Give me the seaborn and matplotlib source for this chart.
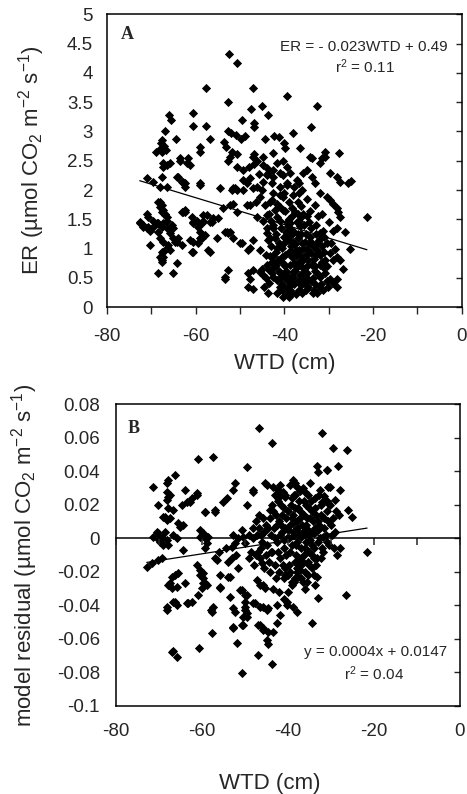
import numpy as np
import pandas as pd
import matplotlib
matplotlib.use('Agg')
import matplotlib.pyplot as plt
import seaborn as sns
from matplotlib.ticker import MultipleLocator, FuncFormatter

# ---- Panel A: ER vs WTD, [WTD (cm), ER] pairs ----
er_sparse = [
    [-52.5, 4.33], [-50.7, 4.17], [-57.7, 3.75], [-47.1, 3.75], [-39.5, 3.60], [-52.7, 3.50],
    [-32.7, 3.43], [-45.1, 3.43], [-47.6, 3.38], [-60.7, 3.31], [-66.0, 3.28], [-65.6, 3.19],
    [-43.7, 3.28], [-49.6, 3.19], [-46.9, 3.14], [-46.9, 3.08], [-60.7, 3.09], [-57.7, 3.10],
    [-34.1, 3.07], [-67.0, 3.00], [-52.7, 3.01], [-52.0, 2.98], [-51.0, 2.94], [-38.1, 2.97],
    [-48.9, 2.93], [-42.4, 2.93], [-41.3, 2.90], [-44.4, 2.88], [-64.5, 2.88], [-56.8, 2.88],
    [-49.8, 2.88], [-67.5, 2.85], [-67.8, 2.80], [-67.2, 2.75], [-68.0, 2.70], [-66.8, 2.68],
    [-67.5, 2.65], [-40.1, 2.80], [-39.9, 2.71], [-59.0, 2.73], [-59.0, 2.65], [-53.6, 2.82],
    [-53.2, 2.73], [-36.5, 2.71], [-30.9, 2.65], [-27.7, 2.63], [-51.8, 2.65], [-50.7, 2.61],
    [-46.9, 2.61], [-44.9, 2.56], [-42.6, 2.63], [-34.3, 2.56], [-31.6, 2.54], [-63.6, 2.54],
    [-61.8, 2.54], [-69.0, 2.65], [-67.4, 2.46], [-66.5, 2.42], [-63.6, 2.50], [-62.0, 2.46],
    [-61.3, 2.42], [-52.3, 2.56], [-52.7, 2.50], [-50.7, 2.39], [-49.4, 2.34], [-47.1, 2.56],
    [-46.2, 2.50], [-44.9, 2.42], [-44.0, 2.37], [-41.7, 2.46], [-40.4, 2.50], [-39.5, 2.39],
    [-38.8, 2.29], [-42.6, 2.34], [-40.9, 2.29], [-65.8, 2.46], [-71.0, 2.20], [-69.6, 2.13],
    [-68.1, 2.05], [-66.5, 2.05], [-64.2, 2.22], [-63.1, 2.13], [-62.4, 2.12], [-59.0, 2.12],
    [-54.5, 2.03], [-51.6, 2.03], [-50.7, 2.00], [-48.5, 2.12], [-47.8, 2.20], [-47.1, 2.03],
    [-46.2, 2.05], [-44.9, 2.13], [-44.0, 2.25], [-42.8, 2.12], [-42.6, 2.22], [-40.4, 2.25],
    [-39.5, 2.12], [-37.2, 2.17], [-35.9, 2.29], [-35.0, 2.34], [-33.8, 2.22], [-33.2, 2.12],
    [-33.8, 2.54], [-32.0, 2.46], [-30.9, 2.56], [-29.8, 2.30], [-28.2, 2.22], [-27.5, 2.13],
    [-25.7, 2.12], [-25.0, 2.16], [-36.1, 2.00], [-32.0, 1.95], [-30.5, 1.88], [-29.8, 1.83],
    [-29.1, 1.77], [-28.2, 1.69], [-28.0, 1.62], [-27.5, 1.54], [-21.4, 1.54], [-68.1, 1.79],
    [-67.6, 1.74], [-67.4, 1.66], [-66.9, 1.60], [-66.5, 1.54], [-71.0, 1.60], [-70.8, 1.54],
    [-72.6, 1.45], [-71.9, 1.40], [-71.0, 1.35], [-70.3, 1.31], [-69.6, 1.48], [-68.7, 1.43],
    [-69.6, 1.37], [-67.4, 1.43], [-66.5, 1.35], [-65.8, 1.26], [-68.1, 1.19], [-67.4, 1.11],
    [-66.5, 1.02], [-67.4, 0.94], [-68.1, 0.85], [-67.6, 0.80], [-70.3, 1.06], [-68.5, 0.58],
    [-65.1, 0.58], [-64.2, 0.75], [-65.8, 0.97], [-65.1, 1.18], [-64.2, 1.11], [-63.1, 1.06],
    [-63.1, 1.62], [-62.4, 1.62], [-60.9, 1.54], [-60.6, 1.45], [-61.3, 1.14], [-60.6, 1.11],
    [-60.9, 0.94], [-59.5, 1.37], [-59.0, 1.28], [-58.4, 1.23], [-59.0, 1.18], [-58.6, 1.43],
    [-58.4, 1.48], [-57.5, 1.57], [-56.8, 1.45], [-56.1, 1.52], [-55.0, 1.52], [-57.3, 0.97],
    [-55.2, 1.18], [-53.0, 1.28], [-52.3, 1.28], [-53.9, 1.69], [-52.3, 1.74], [-51.6, 1.77],
    [-53.4, 0.51], [-52.7, 0.63], [-50.0, 1.09], [-50.7, 1.62], [-48.5, 1.74], [-47.8, 1.74],
    [-48.2, 0.97], [-47.8, 1.02], [-47.1, 1.14], [-48.2, 0.58], [-47.8, 0.49], [-47.1, 0.63],
    [-48.2, 0.34], [-47.1, 0.32], [-45.5, 0.60], [-44.9, 0.55], [-45.5, 0.97], [-46.2, 1.54],
    [-44.9, 1.48], [-44.0, 1.57], [-44.0, 1.26], [-43.3, 1.19], [-42.6, 1.35], [-44.0, 0.72],
    [-43.7, 0.66], [-42.6, 0.51], [-41.7, 0.46], [-42.8, 1.83], [-41.7, 1.77], [-41.0, 1.71],
    [-40.4, 1.66], [-42.6, 1.95], [-41.0, 1.91], [-40.4, 1.88], [-42.2, 1.66], [-41.7, 1.54],
    [-41.0, 1.48], [-39.5, 1.45], [-38.8, 1.43], [-67.6, 2.22], [-67.4, 2.39], [-64.0, 2.22],
    [-62.9, 2.13], [-62.4, 2.05], [-59.0, 2.08], [-51.8, 2.00], [-51.2, 2.03], [-49.4, 2.00],
    [-49.4, 2.17], [-62.9, 1.62], [-62.4, 1.66], [-59.7, 1.48], [-60.6, 1.43], [-58.4, 1.57],
    [-56.4, 1.45], [-53.4, 1.28], [-52.7, 1.26], [-51.6, 1.19], [-49.6, 1.09], [-56.8, 0.94],
    [-60.6, 0.94], [-59.5, 1.09], [-58.6, 1.18], [-57.9, 1.23], [-66.3, 1.06], [-64.7, 1.11],
    [-64.0, 1.19], [-67.6, 0.94], [-67.4, 0.85], [-67.6, 0.77], [-72.6, 1.43], [-71.9, 1.37],
    [-70.8, 1.37], [-68.5, 1.79], [-68.1, 1.71], [-67.6, 1.62], [-66.9, 1.57], [-66.5, 1.48],
    [-68.5, 1.43], [-67.6, 1.37], [-68.5, 1.28], [-65.4, 1.40], [-65.1, 1.35], [-53.4, 0.49],
]
er_core = [
    [-40.4, 0.17], [-41.7, 0.24], [-40.6, 0.29], [-31.4, 0.29], [-30.2, 0.34], [-29.1, 0.41],
    [-28.2, 0.34], [-32.0, 0.51], [-30.9, 0.58], [-29.8, 0.49], [-28.2, 0.49], [-26.8, 0.66],
    [-29.1, 0.80], [-28.2, 0.85], [-29.8, 0.92], [-25.3, 1.00], [-26.4, 1.28], [-28.2, 1.35],
    [-31.4, 1.31], [-32.0, 1.26], [-33.8, 1.09], [-32.7, 0.97], [-30.5, 1.09],
    [-42.5, 1.40], [-41.8, 1.25], [-41.2, 1.10], [-42.0, 0.95], [-41.5, 0.80], [-42.3, 0.68],
    [-41.0, 0.58], [-40.5, 0.40], [-40.0, 0.33], [-39.5, 0.22], [-40.8, 1.35], [-40.2, 1.20],
    [-40.5, 1.02], [-39.8, 0.90], [-40.3, 0.75], [-39.6, 0.62], [-40.0, 0.52], [-39.2, 0.45],
    [-38.8, 0.30], [-38.3, 0.25], [-39.0, 1.50], [-38.6, 1.32], [-39.2, 1.15], [-38.5, 1.05],
    [-38.9, 0.95], [-38.2, 0.85], [-38.7, 0.72], [-38.0, 0.60], [-38.4, 0.50], [-37.8, 0.40],
    [-37.6, 1.62], [-37.2, 1.45], [-37.8, 1.28], [-37.0, 1.18], [-37.5, 1.08], [-36.8, 0.98],
    [-37.3, 0.88], [-36.6, 0.78], [-37.1, 0.68], [-36.5, 0.55], [-37.0, 0.45], [-36.3, 0.38],
    [-36.8, 0.30], [-36.0, 1.55], [-35.6, 1.40], [-36.2, 1.25], [-35.4, 1.12], [-35.9, 1.00],
    [-35.2, 0.90], [-35.8, 0.80], [-35.0, 0.70], [-35.5, 0.60], [-34.8, 0.50], [-35.3, 0.42],
    [-34.6, 0.35], [-34.5, 1.45], [-34.0, 1.35], [-34.3, 1.20], [-33.6, 1.05], [-34.0, 0.92],
    [-33.4, 0.82], [-33.8, 0.72], [-33.2, 0.62], [-33.6, 0.50], [-33.0, 0.40], [-33.3, 0.30],
    [-32.6, 0.25], [-32.8, 1.40], [-32.3, 1.15], [-32.0, 0.90], [-31.6, 0.78], [-31.2, 0.68],
    [-30.8, 0.80], [-30.4, 0.70], [-43.5, 1.60], [-43.0, 1.48], [-43.8, 1.15], [-43.2, 0.88],
    [-42.8, 0.78], [-43.5, 0.42], [-44.5, 0.35], [-45.0, 0.65], [-44.2, 0.90], [-39.8, 1.65],
    [-38.3, 1.70], [-37.0, 1.80], [-36.2, 1.72], [-35.0, 1.85], [-34.2, 1.65], [-36.8, 1.95],
    [-38.0, 1.92], [-39.0, 1.80], [-40.2, 1.95], [-41.0, 2.05], [-39.5, 2.08], [-37.8, 2.05],
    [-36.6, 2.12], [-43.3, 1.80], [-44.3, 1.75], [-45.5, 1.88], [-46.5, 1.80], [-45.0, 2.00],
    [-43.8, 2.30], [-45.8, 2.28], [-48.0, 2.40], [-46.8, 2.45], [-33.0, 1.75], [-31.5, 1.60],
    [-32.5, 1.55], [-30.0, 1.45], [-29.0, 1.30], [-31.0, 1.20], [-29.5, 1.10], [-28.5, 1.00],
    [-27.5, 0.80], [-30.5, 0.45], [-32.0, 0.35],
    [-42.2, 1.18], [-41.6, 1.02], [-42.6, 0.88], [-41.9, 0.72], [-41.3, 0.62], [-40.9, 0.50],
    [-40.6, 0.85], [-40.1, 1.10], [-39.7, 1.28], [-39.3, 1.38], [-39.9, 0.70], [-39.4, 0.55],
    [-39.1, 0.35], [-38.6, 0.40], [-38.1, 0.52], [-37.6, 0.62], [-37.9, 0.75], [-38.4, 0.92],
    [-37.4, 0.98], [-38.0, 1.12], [-38.8, 1.22], [-36.9, 1.25], [-36.4, 1.38], [-36.0, 1.10],
    [-36.4, 0.90], [-36.0, 0.68], [-35.7, 0.48], [-36.1, 0.25], [-35.2, 0.30], [-34.9, 0.58],
    [-34.7, 0.80], [-34.8, 1.00], [-35.1, 1.25], [-34.4, 1.10], [-33.9, 0.45], [-33.5, 0.25],
    [-33.1, 0.70], [-32.9, 0.90], [-32.6, 1.10], [-32.8, 1.25], [-32.3, 0.55], [-32.0, 0.72],
    [-31.8, 0.40], [-31.0, 0.95], [-31.5, 1.05], [-37.3, 0.22], [-38.9, 0.18], [-37.0, 1.60],
    [-35.7, 1.60], [-34.8, 1.55], [-43.9, 1.35], [-43.0, 1.05], [-42.7, 0.58], [-44.1, 0.50],
    [-43.6, 0.25], [-41.1, 0.35], [-36.6, 1.48], [-38.2, 1.55],
]
slope_a, icpt_a = -0.023, 0.49

# ---- Panel B: model residual vs WTD ----
res_sparse = [
    [-46.7, 0.0657], [-43.7, 0.0568], [-32.1, 0.0627], [-29.5, 0.0538], [-26.3, 0.0526],
    [-60.9, 0.0472], [-57.4, 0.0484], [-49.5, 0.0425], [-33.3, 0.0431], [-30.9, 0.0407],
    [-28.4, 0.0431], [-71.4, 0.0305], [-67.9, 0.0347], [-66.3, 0.0377], [-68.1, 0.0330],
    [-52.3, 0.0330], [-52.8, 0.0288], [-48.1, 0.0288], [-44.9, 0.0317], [-43.5, 0.0305],
    [-42.3, 0.0288], [-41.2, 0.0276], [-38.8, 0.0347], [-37.9, 0.0305], [-34.9, 0.0330],
    [-32.6, 0.0288], [-30.2, 0.0305], [-27.9, 0.0288], [-70.2, 0.0198], [-68.1, 0.0228],
    [-67.4, 0.0258], [-64.7, 0.0198], [-63.5, 0.0216], [-62.3, 0.0240], [-61.2, 0.0258],
    [-59.3, 0.0156], [-57.0, 0.0156], [-55.1, 0.0216], [-54.2, 0.0240], [-49.5, 0.0198],
    [-44.2, 0.0168], [-69.1, 0.0127], [-68.1, 0.0109], [-67.4, 0.0120], [-65.1, 0.0067],
    [-64.4, 0.0079], [-70.5, 0.0037], [-71.4, 0.0007], [-69.8, 0.0007], [-60.5, 0.0049],
    [-59.8, 0.0031], [-58.8, 0.0007], [-58.8, -0.0028], [-60.5, 0.0007],
    [-50.7, -0.0803], [-43.7, -0.0750], [-47.0, -0.0696], [-66.7, -0.0672], [-65.8, -0.0708],
    [-60.7, -0.0654], [-51.9, -0.0624], [-44.9, -0.0606], [-44.7, -0.0630], [-57.7, -0.0565],
    [-52.8, -0.0535], [-50.5, -0.0517], [-46.5, -0.0517], [-45.8, -0.0547], [-42.6, -0.0505],
    [-43.5, -0.0559], [-34.4, -0.0505], [-68.1, -0.0410], [-66.7, -0.0380], [-63.5, -0.0386],
    [-62.3, -0.0380], [-57.9, -0.0428], [-57.4, -0.0410], [-52.8, -0.0416], [-52.3, -0.0440],
    [-50.0, -0.0410], [-49.5, -0.0446], [-49.5, -0.0470], [-48.1, -0.0386], [-46.5, -0.0410],
    [-44.9, -0.0428], [-42.6, -0.0398], [-40.2, -0.0380], [-38.8, -0.0410], [-37.9, -0.0440],
    [-33.0, -0.0356], [-26.5, -0.0338], [-33.7, -0.0279], [-55.8, -0.0219], [-53.5, -0.0231],
    [-55.8, -0.0291], [-53.5, -0.0350], [-60.5, -0.0219], [-59.8, -0.0267], [-58.8, -0.0279],
    [-67.4, -0.0267], [-65.8, -0.0291], [-64.0, -0.0267], [-51.2, -0.0308], [-49.5, -0.0338],
    [-47.2, -0.0249], [-45.8, -0.0279], [-72.8, -0.0171], [-71.6, -0.0148], [-70.2, -0.0130],
    [-69.3, -0.0118], [-67.0, -0.0231], [-66.3, -0.0219], [-65.6, -0.0207], [-67.9, -0.0279],
    [-67.0, -0.0297], [-66.3, -0.0380], [-65.8, -0.0398], [-68.1, -0.0428], [-63.3, -0.0386],
    [-61.2, -0.0160], [-60.5, -0.0189], [-59.8, -0.0207], [-59.8, -0.0237], [-59.3, -0.0267],
    [-60.0, -0.0297], [-60.9, -0.0338], [-57.7, -0.0440], [-67.0, -0.0678], [-53.9, -0.0231],
    [-55.8, -0.0297], [-57.0, -0.0118], [-53.0, -0.0118], [-51.6, -0.0177], [-50.7, -0.0308],
    [-50.0, -0.0338], [-50.0, -0.0380], [-50.0, -0.0428], [-50.5, -0.0470], [-50.7, -0.0517],
    [-52.8, -0.0529], [-21.6, -0.0082], [-27.9, -0.0058], [-33.3, -0.0231], [-47.0, -0.0517],
    [-45.8, -0.0535], [-44.7, -0.0559], [-33.0, 0.0395], [-30.9, 0.0407], [-45.3, 0.0330],
    [-41.9, 0.0317], [-38.4, 0.0330], [-30.7, 0.0305], [-48.1, 0.0276], [-43.0, 0.0258],
    [-42.3, 0.0240], [-40.7, 0.0246], [-38.4, 0.0258], [-36.0, 0.0276], [-32.1, 0.0216],
    [-30.7, 0.0210], [-29.1, 0.0228], [-37.7, 0.0180], [-26.0, 0.0168], [-25.1, 0.0127],
    [-68.1, 0.0276], [-67.9, 0.0246], [-67.9, 0.0180], [-66.7, 0.0168], [-68.6, 0.0127],
    [-65.6, 0.0091], [-70.2, 0.0031], [-70.5, 0.0001], [-69.3, 0.0007], [-68.6, 0.0037],
    [-68.1, -0.0011], [-67.9, -0.0041], [-69.1, -0.0041], [-69.8, -0.0023], [-66.7, 0.0019],
    [-65.8, 0.0001], [-64.4, -0.0070], [-64.0, 0.0288], [-62.8, 0.0216], [-61.2, 0.0270],
    [-59.3, 0.0156], [-57.0, 0.0168], [-60.0, 0.0019], [-59.3, 0.0001], [-58.6, 0.0007],
    [-59.3, -0.0058], [-52.8, 0.0019], [-51.6, 0.0001], [-50.7, 0.0049], [-50.5, 0.0007],
    [-52.3, -0.0028], [-53.0, -0.0052], [-50.0, -0.0028], [-56.0, -0.0080], [-54.5, -0.0060],
    [-52.0, -0.0100], [-49.0, -0.0120], [-47.5, -0.0100], [-46.0, -0.0150], [-54.0, -0.0140],
    [-56.5, -0.0130], [-46.5, -0.0279], [-45.3, -0.0297], [-47.7, -0.0386], [-45.8, -0.0410],
    [-44.7, -0.0416], [-41.9, -0.0457], [-40.2, -0.0398], [-39.1, -0.0279], [-40.0, -0.0320],
    [-38.4, -0.0237], [-37.7, -0.0231], [-40.7, -0.0219], [-37.2, -0.0190], [-36.0, -0.0300],
    [-35.5, -0.0260], [-42.0, -0.0320], [-43.5, -0.0300], [-41.0, -0.0360],
]
res_core = [
    [-47.5, 0.010], [-46.8, 0.006], [-47.2, 0.002], [-46.0, -0.002], [-45.5, 0.004],
    [-45.0, 0.008], [-46.3, -0.006], [-44.8, -0.004], [-44.2, 0.012], [-44.0, 0.002],
    [-43.6, -0.008], [-43.2, 0.006], [-42.8, 0.014], [-42.5, -0.002], [-42.0, 0.010],
    [-41.8, -0.012], [-41.4, 0.004], [-41.0, 0.018], [-40.8, -0.006], [-40.5, 0.012],
    [-40.2, 0.000], [-39.8, -0.016], [-39.6, 0.008], [-39.2, 0.020], [-39.0, -0.004],
    [-38.8, 0.014], [-38.5, 0.002], [-38.2, -0.010], [-38.0, 0.010], [-37.8, -0.020],
    [-37.6, 0.004], [-37.3, 0.016], [-37.0, -0.006], [-36.8, 0.008], [-36.5, -0.014],
    [-36.3, 0.022], [-36.0, 0.002], [-35.8, -0.002], [-35.5, 0.012], [-35.2, -0.008],
    [-35.0, 0.018], [-34.8, 0.004], [-34.5, -0.004], [-34.2, 0.010], [-34.0, -0.012],
    [-33.7, 0.006], [-33.4, 0.014], [-33.0, -0.002], [-32.7, 0.008], [-32.4, 0.020],
    [-32.0, -0.006], [-31.6, 0.012], [-31.2, 0.002], [-30.8, 0.016], [-30.4, -0.004],
    [-30.0, 0.008], [-29.5, 0.012], [-29.0, 0.004], [-28.6, -0.010], [-28.2, 0.014],
    [-42.0, -0.020], [-41.0, -0.024], [-40.0, -0.022], [-39.0, -0.026], [-38.0, -0.018],
    [-37.0, -0.024], [-36.0, -0.020], [-35.0, -0.016], [-34.0, -0.022], [-43.0, -0.016],
    [-44.5, -0.014], [-45.5, -0.018], [-46.5, -0.012], [-47.8, -0.016], [-48.5, -0.008],
    [-49.0, 0.002], [-48.2, 0.006], [-38.6, 0.026], [-37.2, 0.028], [-40.6, 0.026],
    [-42.4, 0.022], [-35.4, 0.026], [-33.8, 0.024], [-31.5, 0.025], [-39.5, 0.032],
    [-36.6, 0.030], [-41.6, 0.008], [-40.9, -0.001], [-39.9, 0.005], [-38.9, 0.009],
    [-37.9, -0.002], [-36.9, 0.001], [-35.9, 0.006], [-34.9, -0.001], [-33.9, 0.003],
    [-32.9, 0.005], [-31.9, 0.001], [-41.3, 0.014], [-38.3, -0.014], [-36.2, -0.010],
    [-34.3, 0.016], [-32.2, -0.012],
    [-44.6, 0.006], [-44.0, -0.008], [-43.4, 0.016], [-43.0, 0.000], [-42.6, 0.008],
    [-42.2, -0.008], [-41.8, 0.002], [-41.5, 0.020], [-41.1, -0.016], [-40.7, 0.006],
    [-40.4, -0.010], [-40.0, 0.016], [-39.7, 0.000], [-39.4, -0.008], [-39.1, 0.012],
    [-38.7, 0.004], [-38.4, 0.018], [-38.1, -0.004], [-37.8, 0.006], [-37.5, -0.012],
    [-37.2, 0.012], [-36.9, -0.016], [-36.6, 0.004], [-36.3, 0.014], [-36.0, -0.006],
    [-35.7, 0.008], [-35.4, -0.014], [-35.1, 0.002], [-34.8, 0.012], [-34.5, -0.010],
    [-34.2, 0.004], [-33.9, -0.006], [-33.6, 0.018], [-33.3, -0.012], [-33.0, 0.010],
    [-32.6, 0.000], [-32.3, 0.014], [-31.9, -0.008], [-31.5, 0.006], [-31.0, -0.002],
    [-30.6, 0.010], [-30.2, 0.020], [-29.8, 0.002], [-29.3, -0.006], [-28.9, 0.016],
    [-43.8, 0.020], [-42.0, 0.026], [-39.0, 0.024], [-37.5, 0.022], [-35.9, 0.020],
    [-34.6, 0.022], [-32.8, 0.026], [-30.8, 0.022], [-44.2, -0.020], [-42.8, -0.024],
    [-40.6, -0.018], [-39.4, -0.020], [-38.5, -0.026], [-37.4, -0.016], [-36.4, -0.026],
    [-35.3, -0.022], [-34.3, -0.018], [-33.4, -0.016], [-45.8, 0.012], [-46.2, 0.002],
    [-47.0, -0.008], [-45.2, -0.010], [-48.0, 0.000], [-46.8, 0.014],
]
slope_b, icpt_b = 0.0004, 0.0147

df_a = pd.DataFrame(er_sparse + er_core, columns=['WTD', 'ER'])
df_b = pd.DataFrame(res_sparse + res_core, columns=['WTD', 'res'])

sns.set_style('white', {'axes.edgecolor': 'black'})
plt.rcParams['font.family'] = ['Liberation Sans', 'DejaVu Sans']
plt.rcParams['mathtext.fontset'] = 'custom'
plt.rcParams['mathtext.rm'] = 'Liberation Sans'
plt.rcParams['mathtext.it'] = 'Liberation Sans:italic'
plt.rcParams['axes.unicode_minus'] = False
plt.rcParams['axes.linewidth'] = 1.1

fig = plt.figure(figsize=(4.67, 7.94), dpi=100)
ax1 = fig.add_axes([0.229, 0.613, 0.760, 0.369])
ax2 = fig.add_axes([0.248, 0.111, 0.737, 0.380])

fmt = FuncFormatter(lambda v, p: f'{round(v, 2) + 0:g}')
ylab = r'(µmol CO$_2$ m$^{-2}$ s$^{-1}$)'

# Panel A
sns.scatterplot(data=df_a, x='WTD', y='ER', marker='D', color='black', s=22,
                linewidth=0, legend=False, ax=ax1)
xa = np.array([df_a['WTD'].min(), df_a['WTD'].max()])
ax1.plot(xa, slope_a * xa + icpt_a, color='black', lw=0.9)
ax1.set_xlim(-80, 0)
ax1.set_ylim(0, 5)
ax1.xaxis.set_major_locator(MultipleLocator(20))
ax1.xaxis.set_minor_locator(MultipleLocator(10))
ax1.yaxis.set_major_locator(MultipleLocator(0.5))
ax1.yaxis.set_major_formatter(fmt)
ax1.tick_params(axis='x', which='both', direction='out', length=5, width=1,
                bottom=True, top=False, pad=10, labelsize=13.5)
ax1.tick_params(axis='y', left=False, right=True, direction='in', length=4, width=1,
                labelleft=True, pad=10, labelsize=13.5)
ax1.set_xlabel('WTD (cm)', fontsize=16)
ax1.set_ylabel('ER ' + ylab, fontsize=16)
ax1.xaxis.set_label_coords(0.5, -0.157)
ax1.yaxis.set_label_coords(-0.17, 0.5)
ax1.text(0.04, 0.93, 'A', transform=ax1.transAxes, family='Liberation Serif',
         fontweight='bold', fontsize=13, va='center')
ax1.text(0.96, 0.887, 'ER = - 0.023WTD + 0.49', transform=ax1.transAxes,
         ha='right', va='center', fontsize=11)
ax1.text(0.727, 0.822, 'r$^2$ = 0.11', transform=ax1.transAxes,
         ha='center', va='center', fontsize=11)

# Panel B
sns.scatterplot(data=df_b, x='WTD', y='res', marker='D', color='black', s=22,
                linewidth=0, legend=False, ax=ax2)
xb = np.array([df_b['WTD'].min(), df_b['WTD'].max()])
ax2.plot(xb, slope_b * xb + icpt_b, color='black', lw=0.9)
ax2.set_xlim(-80, 0)
ax2.set_ylim(-0.1, 0.08)
ax2.xaxis.set_major_locator(MultipleLocator(20))
ax2.yaxis.set_major_locator(MultipleLocator(0.02))
ax2.yaxis.set_major_formatter(fmt)
ax2.tick_params(axis='x', which='both', length=0, pad=12, labelsize=13.5)
ax2.tick_params(axis='y', left=False, right=True, direction='in', length=4, width=1,
                labelleft=True, pad=11.5, labelsize=13.5)

# overlay axes: x axis crossing at zero residual, ticks pointing down
zax = fig.add_axes(ax2.get_position(), facecolor='none')
zax.set_xlim(ax2.get_xlim())
zax.set_ylim(ax2.get_ylim())
for side in ['top', 'left', 'right']:
    zax.spines[side].set_visible(False)
zax.spines['bottom'].set_position(('data', 0))
zax.xaxis.set_major_locator(MultipleLocator(10))
zax.tick_params(axis='x', direction='out', length=5, width=1.1, bottom=True,
                top=False, labelbottom=False)
zax.tick_params(axis='y', left=False, right=False, labelleft=False)

ax2.set_xlabel('WTD (cm)', fontsize=16)
ax2.set_ylabel('model residual ' + ylab, fontsize=16)
ax2.xaxis.set_label_coords(0.448, -0.222)
ax2.yaxis.set_label_coords(-0.22, 0.5)
ax2.text(0.035, 0.92, 'B', transform=ax2.transAxes, family='Liberation Serif',
         fontweight='bold', fontsize=13, va='center')
ax2.text(0.962, 0.179, 'y = 0.0004x + 0.0147', transform=ax2.transAxes,
         ha='right', va='center', fontsize=11)
ax2.text(0.75, 0.106, 'r$^2$ = 0.04', transform=ax2.transAxes,
         ha='center', va='center', fontsize=11)

fig.savefig('out.png', dpi=100)
